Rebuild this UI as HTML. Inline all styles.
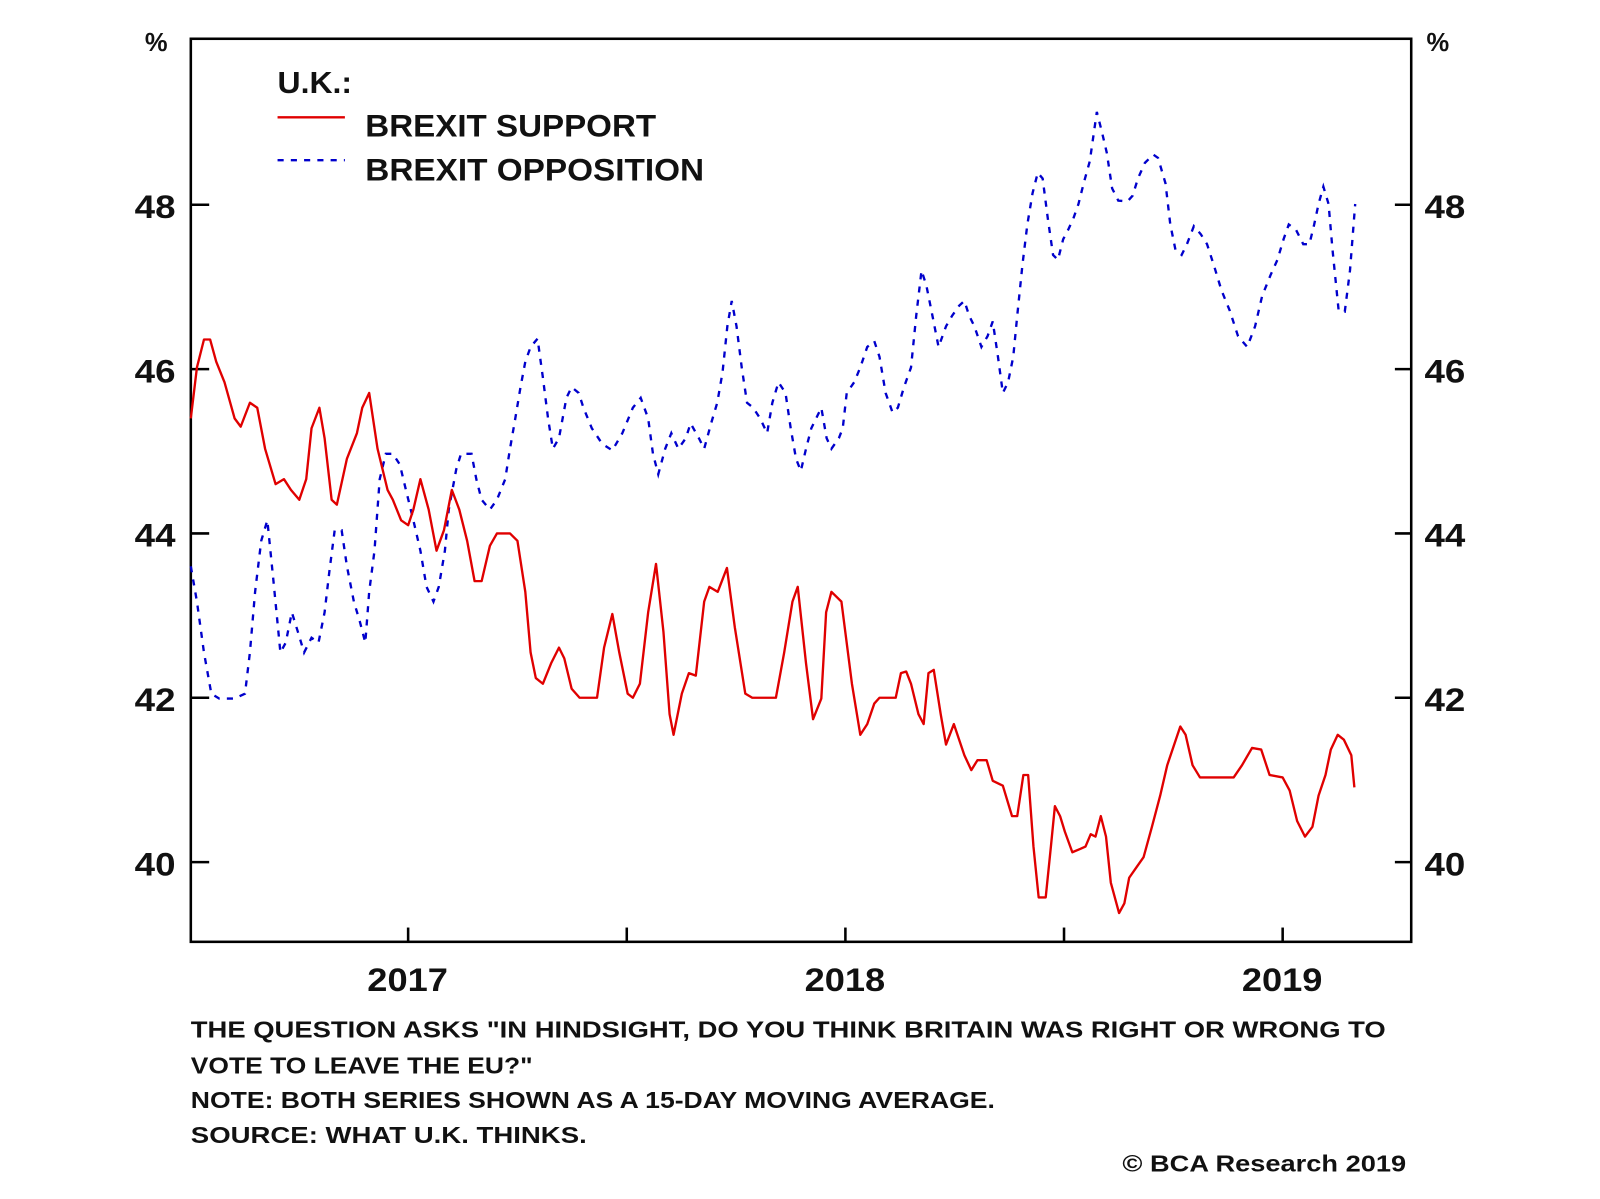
<!DOCTYPE html>
<html><head><meta charset="utf-8"><style>
html,body{margin:0;padding:0;background:#fff;}
svg{display:block;font-family:"Liberation Sans",Arial,sans-serif;font-weight:bold;}
</style></head><body>
<svg id="chart" width="1600" height="1199" viewBox="0 0 1600 1199" xmlns="http://www.w3.org/2000/svg">
<rect width="1600" height="1199" fill="#fff"/>
<g transform="scale(1.0204)">
<g id="axes"></g>
<g id="series"></g>
<g>
<text x="272" y="91" font-size="30" fill="#111" textLength="73" lengthAdjust="spacingAndGlyphs">U.K.:</text>
<line x1="272" y1="115" x2="338" y2="115" stroke="#e00000" stroke-width="2.3"/>
<text x="358" y="134" font-size="31" fill="#111" textLength="285" lengthAdjust="spacingAndGlyphs">BREXIT SUPPORT</text>
<line x1="272" y1="157" x2="338" y2="157" stroke="#0000cc" stroke-width="2.3" stroke-dasharray="6,7"/>
<text x="358" y="177" font-size="31" fill="#111" textLength="332" lengthAdjust="spacingAndGlyphs">BREXIT OPPOSITION</text>
</g>
<g font-size="23" fill="#111">
<text x="187" y="1017" textLength="1171" lengthAdjust="spacingAndGlyphs">THE QUESTION ASKS "IN HINDSIGHT, DO YOU THINK BRITAIN WAS RIGHT OR WRONG TO</text>
<text x="187" y="1052" textLength="335" lengthAdjust="spacingAndGlyphs">VOTE TO LEAVE THE EU?"</text>
<text x="187" y="1086" textLength="788" lengthAdjust="spacingAndGlyphs">NOTE: BOTH SERIES SHOWN AS A 15-DAY MOVING AVERAGE.</text>
<text x="187" y="1120" textLength="388" lengthAdjust="spacingAndGlyphs">SOURCE: WHAT U.K. THINKS.</text>
<text x="1100" y="1148" textLength="278" lengthAdjust="spacingAndGlyphs">© BCA Research 2019</text>
</g>
</g>
</svg>
<script>
const yTicks=[40,42,44,46,48];
const xYearTicks=[2017,2018,2019];
const xHalfTicks=[2017.5,2018.5];
const supportDates=[2016.503,2016.517,2016.533,2016.547,2016.561,2016.580,2016.603,2016.617,2016.638,2016.655,2016.673,2016.697,2016.716,2016.732,2016.751,2016.767,2016.779,2016.797,2016.809,2016.825,2016.837,2016.860,2016.883,2016.895,2016.911,2016.930,2016.953,2016.965,2016.984,2017.000,2017.012,2017.028,2017.047,2017.065,2017.082,2017.100,2017.117,2017.135,2017.152,2017.168,2017.187,2017.203,2017.233,2017.250,2017.268,2017.280,2017.292,2017.308,2017.327,2017.345,2017.357,2017.374,2017.392,2017.432,2017.448,2017.467,2017.483,2017.502,2017.514,2017.530,2017.549,2017.567,2017.584,2017.598,2017.607,2017.626,2017.642,2017.658,2017.677,2017.689,2017.708,2017.729,2017.747,2017.771,2017.787,2017.841,2017.860,2017.879,2017.891,2017.910,2017.926,2017.945,2017.956,2017.968,2017.991,2018.015,2018.034,2018.050,2018.066,2018.078,2018.115,2018.127,2018.139,2018.150,2018.167,2018.179,2018.190,2018.202,2018.218,2018.230,2018.248,2018.272,2018.288,2018.302,2018.323,2018.337,2018.360,2018.381,2018.393,2018.407,2018.418,2018.430,2018.442,2018.458,2018.470,2018.479,2018.491,2018.502,2018.519,2018.537,2018.549,2018.561,2018.572,2018.584,2018.596,2018.607,2018.626,2018.638,2018.649,2018.666,2018.682,2018.701,2018.720,2018.736,2018.752,2018.766,2018.778,2018.794,2018.811,2018.888,2018.907,2018.930,2018.951,2018.970,2019.000,2019.016,2019.033,2019.051,2019.068,2019.082,2019.098,2019.110,2019.126,2019.140,2019.157,2019.164];
const supportValues=[45.40,46.02,46.36,46.36,46.09,45.84,45.40,45.30,45.59,45.53,45.03,44.60,44.66,44.53,44.41,44.66,45.28,45.53,45.16,44.41,44.35,44.91,45.22,45.53,45.71,45.03,44.53,44.41,44.16,44.10,44.29,44.66,44.29,43.79,44.04,44.53,44.29,43.91,43.42,43.42,43.85,44.00,44.00,43.91,43.29,42.55,42.24,42.17,42.42,42.61,42.48,42.11,42.00,42.00,42.61,43.02,42.55,42.05,42.00,42.17,43.04,43.63,42.80,41.80,41.55,42.05,42.30,42.27,43.17,43.35,43.29,43.58,42.86,42.05,42.00,42.00,42.55,43.17,43.35,42.42,41.74,41.99,43.04,43.29,43.17,42.17,41.55,41.68,41.93,42.00,42.00,42.30,42.32,42.17,41.80,41.68,42.30,42.34,41.80,41.43,41.68,41.30,41.12,41.24,41.24,40.99,40.93,40.56,40.56,41.06,41.06,40.19,39.57,39.57,40.19,40.68,40.56,40.37,40.12,40.16,40.19,40.34,40.31,40.56,40.31,39.75,39.38,39.50,39.81,39.94,40.06,40.43,40.81,41.18,41.43,41.65,41.55,41.18,41.03,41.03,41.18,41.39,41.37,41.06,41.03,40.87,40.50,40.31,40.43,40.81,41.06,41.37,41.55,41.49,41.30,40.91];
const oppositionDates=[2016.503,2016.517,2016.533,2016.550,2016.568,2016.603,2016.627,2016.638,2016.650,2016.664,2016.678,2016.692,2016.708,2016.720,2016.734,2016.748,2016.762,2016.779,2016.795,2016.809,2016.820,2016.832,2016.848,2016.860,2016.876,2016.890,2016.902,2016.911,2016.923,2016.935,2016.949,2016.965,2016.981,2016.995,2017.012,2017.028,2017.042,2017.058,2017.070,2017.084,2017.093,2017.110,2017.121,2017.145,2017.156,2017.168,2017.187,2017.203,2017.222,2017.233,2017.245,2017.257,2017.268,2017.280,2017.296,2017.308,2017.320,2017.331,2017.345,2017.362,2017.374,2017.390,2017.401,2017.420,2017.444,2017.467,2017.490,2017.514,2017.532,2017.549,2017.560,2017.572,2017.588,2017.602,2017.618,2017.635,2017.646,2017.665,2017.677,2017.693,2017.707,2017.719,2017.730,2017.740,2017.751,2017.763,2017.775,2017.789,2017.805,2017.821,2017.833,2017.847,2017.863,2017.875,2017.887,2017.898,2017.910,2017.922,2017.933,2017.945,2017.957,2017.968,2017.985,2017.994,2018.003,2018.020,2018.034,2018.050,2018.066,2018.078,2018.092,2018.108,2018.120,2018.134,2018.150,2018.162,2018.174,2018.185,2018.199,2018.213,2018.230,2018.244,2018.260,2018.272,2018.283,2018.295,2018.311,2018.325,2018.337,2018.349,2018.360,2018.372,2018.384,2018.393,2018.405,2018.416,2018.428,2018.440,2018.451,2018.463,2018.475,2018.486,2018.498,2018.510,2018.521,2018.533,2018.545,2018.559,2018.575,2018.587,2018.598,2018.610,2018.624,2018.645,2018.657,2018.669,2018.685,2018.704,2018.715,2018.732,2018.743,2018.755,2018.769,2018.781,2018.797,2018.813,2018.827,2018.844,2018.860,2018.879,2018.898,2018.919,2018.937,2018.953,2018.972,2018.988,2019.002,2019.014,2019.030,2019.047,2019.061,2019.072,2019.082,2019.093,2019.105,2019.114,2019.128,2019.142,2019.154,2019.166];
const oppositionValues=[43.60,43.17,42.55,42.05,41.99,41.99,42.05,42.55,43.29,43.91,44.16,43.42,42.55,42.67,43.04,42.80,42.55,42.73,42.67,43.04,43.54,44.04,44.04,43.60,43.17,42.92,42.67,43.29,43.79,44.66,44.97,44.97,44.84,44.53,44.16,43.79,43.35,43.17,43.35,43.79,44.29,44.78,44.97,44.97,44.66,44.41,44.29,44.41,44.66,45.03,45.40,45.78,46.09,46.27,46.37,45.90,45.40,45.03,45.16,45.65,45.78,45.71,45.53,45.28,45.09,45.01,45.22,45.53,45.65,45.40,44.97,44.72,45.03,45.22,45.03,45.16,45.34,45.16,45.03,45.34,45.59,45.96,46.52,46.83,46.52,46.02,45.59,45.53,45.40,45.22,45.59,45.84,45.71,45.28,44.91,44.76,45.03,45.28,45.40,45.53,45.16,45.03,45.16,45.28,45.71,45.84,46.02,46.27,46.34,46.15,45.71,45.47,45.53,45.78,46.02,46.65,47.20,47.02,46.65,46.27,46.52,46.65,46.77,46.83,46.65,46.52,46.27,46.40,46.58,46.15,45.71,45.84,46.15,46.65,47.27,47.76,48.14,48.39,48.32,47.83,47.39,47.33,47.58,47.70,47.83,48.01,48.26,48.53,49.13,48.88,48.63,48.20,48.05,48.04,48.11,48.32,48.51,48.61,48.57,48.26,47.76,47.45,47.39,47.52,47.74,47.64,47.52,47.24,46.96,46.71,46.40,46.27,46.52,46.89,47.14,47.33,47.58,47.76,47.70,47.52,47.52,47.76,48.01,48.22,48.01,47.45,46.71,46.70,47.20,48.01];

const L=187,R=1383,T=38,B=923;
const X0=2016.503,X1=2019.294,Y0=39.03,Y1=50.02;
function xs(v){return L+(v-X0)/(X1-X0)*(R-L);}
function ys(v){return B-(v-Y0)/(Y1-Y0)*(B-T);}
const NS='http://www.w3.org/2000/svg';
const axes=document.getElementById('axes');
const series=document.getElementById('series');
function mk(tag,attrs,parent){const e=document.createElementNS(NS,tag);for(const k in attrs)e.setAttribute(k,attrs[k]);parent.appendChild(e);return e;}

const frame=mk('rect',{x:L,y:T,width:R-L,height:B-T,fill:'none',stroke:'#000','stroke-width':2.5},axes);



yTicks.forEach(v=>{
  const y=ys(v);
  const t1=mk('line',{x1:L,y1:y,x2:L+18,y2:y,stroke:'#000','stroke-width':2.5},axes);
  
  
  const t2=mk('line',{x1:R-16,y1:y,x2:R,y2:y,stroke:'#000','stroke-width':2.5},axes);
  
  
  const l1=mk('text',{x:132,y:y+13,'font-size':32,fill:'#111',textLength:40,lengthAdjust:'spacingAndGlyphs'},axes);
  l1.textContent=v;
  
  
  const l2=mk('text',{x:1396,y:y+13,'font-size':32,fill:'#111',textLength:40,lengthAdjust:'spacingAndGlyphs'},axes);
  l2.textContent=v;
  
  
});
xYearTicks.concat(xHalfTicks).forEach(v=>{
  const x=xs(v);
  const t=mk('line',{x1:x,y1:B-14,x2:x,y2:B,stroke:'#000','stroke-width':2.5},axes);
  
  
});
xYearTicks.forEach(v=>{
  const l=mk('text',{x:xs(v)-40,y:971,'font-size':32,fill:'#111',textLength:79,lengthAdjust:'spacingAndGlyphs'},axes);
  l.textContent=v;
  
  
});
[142,1398].forEach((x,i)=>{
  const u=mk('text',{x:x,y:50,'font-size':25,fill:'#111'},axes);
  u.textContent='%';
  
  
});

function pts(d,v){return d.map((x,i)=>xs(x).toFixed(1)+','+ys(v[i]).toFixed(1)).join(' ');}
const opp=mk('polyline',{points:pts(oppositionDates,oppositionValues),fill:'none',stroke:'#0000cc','stroke-width':2.3,'stroke-dasharray':'6,7'},series);


const sup=mk('polyline',{points:pts(supportDates,supportValues),fill:'none',stroke:'#e00000','stroke-width':2.3,'stroke-linejoin':'round'},series);


</script>
</body></html>
